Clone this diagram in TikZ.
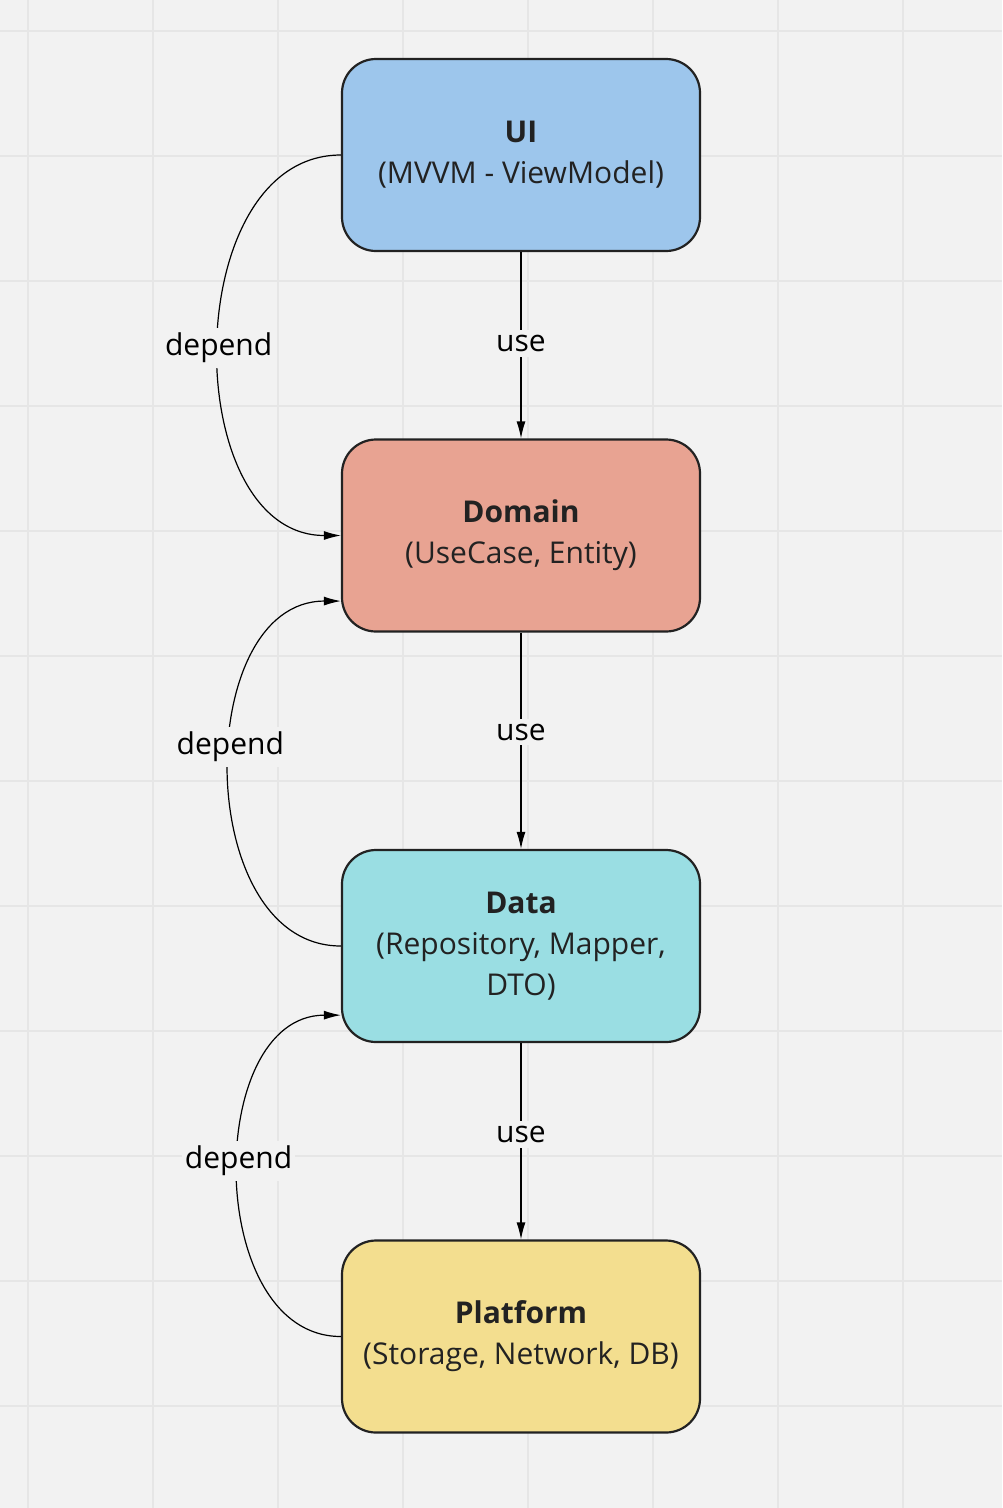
\documentclass[tikz,border=0pt]{standalone}
\usepackage{fontspec}
\setmainfont{Open Sans}
\usetikzlibrary{arrows.meta}

\definecolor{paper}{HTML}{F2F2F2}
\definecolor{gridline}{HTML}{E6E6E6}
\definecolor{ink}{HTML}{222222}
\definecolor{uiblue}{HTML}{9DC6EC}
\definecolor{domred}{HTML}{E8A392}
\definecolor{datacyan}{HTML}{9ADEE3}
\definecolor{platyellow}{HTML}{F3DE8F}

\begin{document}
\begin{tikzpicture}[x=1pt, y=-1pt, >={Latex[length=17pt,width=9pt]},
  layer/.style={draw=ink, line width=2.2pt, rounded corners=34pt,
                minimum width=358pt, minimum height=192pt, align=center,
                text=ink, font=\fontsize{30}{41}\selectfont},
  tag/.style={fill=paper, inner xsep=3pt, inner ysep=5pt, text=black,
              font=\fontsize{30}{34}\selectfont}]

  \useasboundingbox [fill=paper] (0,0) rectangle (1002,1508);
  \foreach \k in {0,...,7}
    \draw [gridline, line width=1.6pt] (28+125*\k,0) -- (28+125*\k,1508);
  \foreach \k in {0,...,11}
    \draw [gridline, line width=1.6pt] (0,31+125*\k) -- (1002,31+125*\k);

  \node (ui)   at (521,155)    [layer, fill=uiblue]     {\textbf{UI}\\(MVVM - ViewModel)};
  \node (dom)  at (521,535.5)  [layer, fill=domred]     {\textbf{Domain}\\(UseCase, Entity)};
  \node (data) at (521,946)    [layer, fill=datacyan]   {\textbf{Data}\\(Repository, Mapper,\\DTO)};
  \node (plat) at (521,1336.5) [layer, fill=platyellow] {\textbf{Platform}\\(Storage, Network, DB)};

  \draw [->, line width=1.2pt] (ui)   -- (dom)  node [tag, pos=0.49]  {use};
  \draw [->, line width=1.2pt] (dom)  -- (data) node [tag, pos=0.46]  {use};
  \draw [->, line width=1.2pt] (data) -- (plat) node [tag, pos=0.465] {use};

  \draw [->, line width=1.2pt] (ui.west) .. controls +(-163,0) and +(-163,0) .. (dom.west)
        node [tag, pos=0.505] {depend};
  \draw [->, line width=1.2pt] (data.west) .. controls +(-149,0) and +(-149,0) .. (dom.200)
        node [tag, pos=0.552] {depend};
  \draw [->, line width=1.2pt] (plat.west) .. controls +(-137,0) and +(-137,0) .. (data.201)
        node [tag, pos=0.531] {depend};
\end{tikzpicture}
\end{document}
